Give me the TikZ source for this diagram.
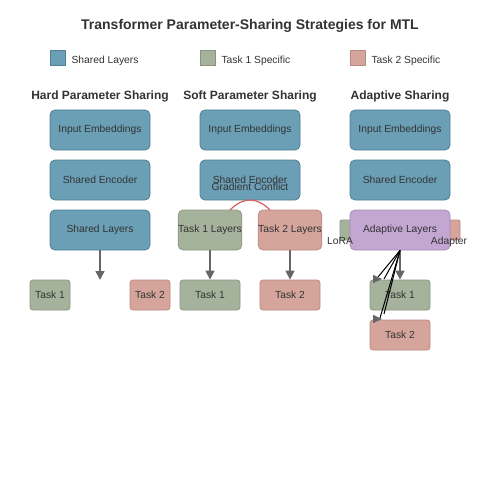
\documentclass[tikz,border=0pt]{standalone}
\usepackage{fontspec}
\setmainfont{Liberation Sans}
\usetikzlibrary{arrows.meta}
\definecolor{txt}{HTML}{333333}
\definecolor{sharedc}{HTML}{6A9FB5}
\definecolor{sharedd}{HTML}{4F7F93}
\definecolor{taskoc}{HTML}{A5B29C}
\definecolor{taskod}{HTML}{8A9682}
\definecolor{tasktc}{HTML}{D5A59C}
\definecolor{tasktd}{HTML}{B98A82}
\definecolor{adapc}{HTML}{C4A6D3}
\definecolor{adapd}{HTML}{A68AB5}
\definecolor{arrowc}{HTML}{666666}
\definecolor{conflictc}{HTML}{D9605F}
\begin{document}
\begin{tikzpicture}[x=1pt,y=-1pt,
  every node/.style={text=txt, font=\fontsize{10.3}{12}\selectfont},
  box/.style={draw, line width=0.8pt, rounded corners=5pt, inner sep=0pt, minimum width=100pt, minimum height=40pt},
  smallbox/.style={draw, line width=0.8pt, rounded corners=3pt, inner sep=0pt, minimum width=40pt, minimum height=30pt},
  midbox/.style={draw, line width=0.8pt, rounded corners=3pt, inner sep=0pt, minimum width=60pt, minimum height=30pt},
  layerbox/.style={draw, line width=0.8pt, rounded corners=5pt, inner sep=0pt, minimum width=60pt, minimum height=40pt},
  sidebox/.style={draw, line width=0.8pt, rounded corners=2pt, inner sep=0pt, minimum width=20pt, minimum height=20pt},
  legbox/.style={draw, line width=0.8pt, inner sep=0pt, minimum width=15pt, minimum height=15pt},
  shared/.style={fill=sharedc, draw=sharedd},
  taskone/.style={fill=taskoc, draw=taskod},
  tasktwo/.style={fill=tasktc, draw=tasktd},
  adaptive/.style={fill=adapc, draw=adapd},
  lbl/.style={yshift=-1pt},
  header/.style={font=\fontsize{12}{14}\selectfont\bfseries},
  flow/.style={draw=arrowc, line width=1.5pt, -{Triangle[length=9pt,width=9pt]}},
  wedge/.style={draw=black, line width=1pt},
  tipstyle/.style={draw=arrowc, line width=1.5pt, -{Triangle[length=9pt,width=8pt]}}
]
\useasboundingbox[fill=white] (0,0) rectangle (500,500);

% title
\node[font=\fontsize{14}{16}\selectfont\bfseries] (title) at (250,26) {Transformer Parameter-Sharing Strategies for MTL};

% legend
\node[legbox, shared] (lg1) at (57.5,57.5) {};
\node[anchor=west] (lt1) at (68,60.5) {Shared Layers};
\node[legbox, taskone] (lg2) at (207.5,57.5) {};
\node[anchor=west] (lt2) at (218,60.5) {Task 1 Specific};
\node[legbox, tasktwo] (lg3) at (357.5,57.5) {};
\node[anchor=west] (lt3) at (368,60.5) {Task 2 Specific};

% headers
\node[header] (h1) at (100,96.5) {Hard Parameter Sharing};
\node[header] (h2) at (250,96.5) {Soft Parameter Sharing};
\node[header] (h3) at (400,96.5) {Adaptive Sharing};

% hard sharing
\node[box, shared] (hin) at (100,130) {\raisebox{-1pt}{Input Embeddings}};
\node[box, shared] (henc) at (100,180) {\raisebox{-1pt}{Shared Encoder}};
\node[box, shared] (hsl) at (100,230) {\raisebox{-1pt}{Shared Layers}};
\node[smallbox, taskone] (ht1) at (50,295) {\raisebox{-1pt}{Task 1}};
\node[smallbox, tasktwo] (ht2) at (150,295) {\raisebox{-1pt}{Task 2}};
\coordinate (harr) at (100,280);
\draw[flow] (hsl.south) -- (harr);

% soft sharing
\node[box, shared] (sin) at (250,130) {\raisebox{-1pt}{Input Embeddings}};
\node[box, shared] (senc) at (250,180) {\raisebox{-1pt}{Shared Encoder}};
\node[layerbox, taskone] (sl1) at (210,230) {\raisebox{-1pt}{Task 1 Layers}};
\node[layerbox, tasktwo] (sl2) at (290,230) {\raisebox{-1pt}{Task 2 Layers}};
\node[midbox, taskone] (st1) at (210,295) {\raisebox{-1pt}{Task 1}};
\node[midbox, tasktwo] (st2) at (290,295) {\raisebox{-1pt}{Task 2}};
\draw[flow] (sl1.south) -- (st1.north);
\draw[flow] (sl2.south) -- (st2.north);
\coordinate (gc1) at (230,210);
\coordinate (gc2) at (270,210);
\draw[conflictc, line width=1.2pt] (gc1) .. controls (243.3,196.7) and (256.7,196.7) .. (gc2);
\node (gct) at (250,186.5) {Gradient Conflict};

% adaptive sharing
\node[box, shared] (ain) at (400,130) {\raisebox{-1pt}{Input Embeddings}};
\node[box, shared] (aenc) at (400,180) {\raisebox{-1pt}{Shared Encoder}};
\node[sidebox, taskone] (lora) at (350,230) {};
\node[sidebox, tasktwo] (adpt) at (450,230) {};
\node[box, adaptive] (al) at (400,230) {\raisebox{-1pt}{Adaptive Layers}};
\node (lorat) at (340,241.5) {LoRA};
\node (adptt) at (449,241.5) {Adapter};
\node[midbox, taskone] (at1) at (400,295) {\raisebox{-1pt}{Task 1}};
\node[midbox, tasktwo] (at2) at (400,335) {\raisebox{-1pt}{Task 2}};
\draw[flow] (al.south) -- (at1.north);
\coordinate (w1a) at (378,277);
\coordinate (w1b) at (384,279);
\coordinate (w2a) at (380,318);
\coordinate (w2b) at (384,314);
\draw[wedge] (al.south) -- (w1a);
\draw[wedge] (al.south) -- (w1b);
\draw[wedge] (al.south) -- (w2a);
\draw[wedge] (al.south) -- (w2b);
\coordinate (t1s) at (376,279);
\coordinate (t1e) at (382,279);
\coordinate (t2s) at (376,319);
\coordinate (t2e) at (382,319);
\draw[tipstyle] (t1s) -- (t1e);
\draw[tipstyle] (t2s) -- (t2e);
\end{tikzpicture}
\end{document}
